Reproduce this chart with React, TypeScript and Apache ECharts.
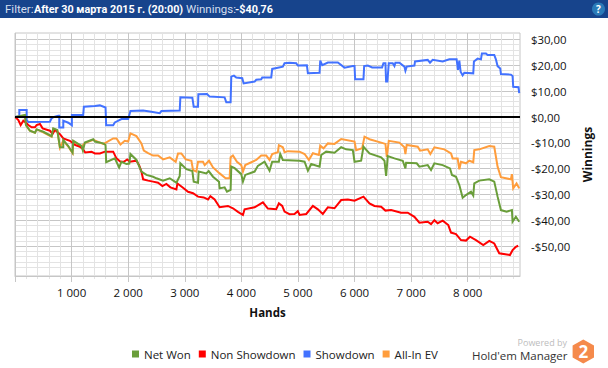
import React, { useEffect, useRef } from "react";
import * as echarts from "echarts";

const FONT = '"Open Sans", "Noto Sans", sans-serif';
const HEAD = 'Roboto, "Open Sans", sans-serif';

const netWonData: number[][] = [[6,0],[88,0.4],[176,0.8],[194,-3.1],[264,-5.3],[353,-6.1],[382,-4.8],[500,-5.7],[647,-7.4],[676,-4.4],[747,-5],[794,-11.7],[853,-11.7],[853,-8.9],[941,-11.2],[1017,-13.8],[1029,-9.2],[1176,-11.2],[1200,-13],[1235,-9.9],[1382,-8.6],[1411,-9.5],[1558,-10.2],[1600,-10.8],[1611,-17.5],[1764,-16],[1840,-19.5],[1882,-17.3],[1970,-18.2],[2020,-18],[2040,-14.3],[2146,-16.6],[2234,-21.1],[2323,-22.4],[2440,-23.1],[2499,-23.7],[2617,-24.6],[2734,-23.7],[2852,-25.4],[2911,-22.8],[2922,-17.9],[3028,-20.2],[3134,-20.9],[3158,-25],[3234,-25.4],[3246,-21.1],[3381,-21.8],[3422,-20.9],[3499,-23.1],[3605,-25],[3616,-27.6],[3704,-27.2],[3746,-28.9],[3810,-28.2],[3822,-19.2],[3881,-19.8],[3998,-22.1],[4028,-25],[4069,-22.4],[4234,-21.1],[4292,-18.9],[4410,-17.3],[4498,-20.8],[4545,-17.3],[4663,-17.3],[4687,-14.3],[4733,-16.6],[5029,-16.9],[5117,-17.3],[5176,-20.8],[5235,-18.2],[5382,-19.2],[5411,-14.7],[5499,-13.4],[5646,-13.8],[5764,-11.7],[5852,-12.5],[5970,-12.8],[6000,-17.3],[6117,-16.9],[6158,-11.5],[6264,-14.1],[6470,-15.6],[6529,-16.9],[6558,-22.8],[6587,-15.1],[6705,-16],[6852,-16.9],[6899,-19.9],[6911,-17.7],[7099,-17.9],[7146,-19.2],[7293,-18.6],[7352,-20.5],[7411,-17.9],[7558,-18.6],[7687,-19.9],[7722,-22.4],[7793,-23.1],[7852,-26.3],[7911,-31.2],[7969,-30.2],[8058,-28.9],[8098,-30.4],[8116,-25.7],[8204,-24.6],[8381,-24.1],[8469,-25],[8528,-30.8],[8587,-36],[8687,-36.6],[8781,-36],[8793,-40.5],[8851,-38.6],[8910,-40.5]];

const nonShowdownData: number[][] = [[6,0],[59,-1.2],[100,-3.1],[147,-1.4],[194,-2.2],[235,-3.1],[294,-4],[353,-4],[382,-3.1],[441,-2.7],[488,-4.4],[617,-5.3],[664,-6.6],[705,-5],[794,-6.6],[853,-8.3],[970,-9.2],[1058,-10.8],[1147,-11.5],[1205,-12.5],[1240,-13.7],[1352,-13.4],[1411,-14.1],[1500,-14.1],[1588,-13.4],[1735,-13.4],[1793,-16],[1864,-17.3],[1923,-17.3],[1982,-16.4],[2029,-17.3],[2146,-16.9],[2193,-18.6],[2234,-21.1],[2264,-24.1],[2352,-24.6],[2440,-25],[2528,-25.4],[2605,-26.7],[2675,-25.9],[2746,-27.2],[2852,-28],[2870,-25.7],[2958,-27.2],[3058,-28.9],[3146,-29.5],[3234,-30.8],[3334,-31.1],[3411,-31.9],[3452,-30.6],[3528,-31.9],[3616,-34.9],[3763,-34.4],[3851,-35.3],[3940,-36.7],[4028,-37.9],[4057,-35.7],[4234,-34.9],[4381,-33],[4469,-35.4],[4616,-35.7],[4663,-33.4],[4722,-34.4],[4763,-36.6],[4851,-37.6],[4939,-37.5],[4998,-36.4],[5029,-37.9],[5147,-37.5],[5264,-34.4],[5352,-35.7],[5440,-37.5],[5529,-34.9],[5646,-35.3],[5764,-32.1],[5882,-31.9],[6000,-32.4],[6158,-30.8],[6264,-33.4],[6352,-34.4],[6470,-34.7],[6546,-36.2],[6646,-36],[6822,-37],[6940,-37],[7058,-38.6],[7146,-40.9],[7293,-40.5],[7352,-41.4],[7411,-39.9],[7469,-41.1],[7558,-40.1],[7657,-41.8],[7705,-44.7],[7793,-45.3],[7881,-47.6],[7969,-47.8],[8040,-46.3],[8146,-47.6],[8275,-49.5],[8381,-47.9],[8469,-48.9],[8557,-52.7],[8746,-53.4],[8793,-51.5],[8851,-50.2],[8892,-49.8]];

const showdownData: number[][] = [[6,0.1],[76,0.1],[76,2.7],[206,2.7],[206,-1.2],[235,-1.9],[617,-1.8],[647,-0.5],[676,-0.1],[764,0.5],[782,0.5],[782,-4.1],[853,-4.1],[853,-1.4],[941,-2.2],[1005,-3.2],[1005,0.8],[1205,0.8],[1217,4],[1411,4.3],[1500,4.5],[1600,3.7],[1611,-3.2],[1735,-3.2],[1764,-2.1],[1882,-0.8],[2000,-0.8],[2040,2.3],[2264,2.5],[2381,2.1],[2558,1.5],[2587,2.3],[2911,2.5],[2922,7.6],[3134,7.5],[3158,4],[3234,4],[3240,8.8],[3393,8.9],[3440,7.9],[3704,7.6],[3734,5.7],[3810,5.7],[3822,15.6],[3869,16],[3910,15.3],[4016,15],[4040,13],[4234,13.7],[4263,14.4],[4351,14.6],[4369,15.3],[4528,15.3],[4545,18.6],[4733,19.5],[4763,20.8],[4851,21],[4969,20.8],[4998,19.9],[5158,20],[5176,16.9],[5382,17.1],[5394,21.8],[5429,20.1],[5529,21.1],[5705,21.1],[5823,19.1],[5970,19.7],[6000,19.7],[6011,14.6],[6158,14.6],[6170,19.7],[6235,19.9],[6311,19.2],[6487,19.2],[6511,20.8],[6546,20.8],[6558,13.7],[6581,13.7],[6605,20.8],[6675,20.8],[6705,19.7],[6722,21],[6793,21],[6881,19.5],[6899,17.9],[6922,19.5],[7058,19.9],[7069,21.5],[7293,22.1],[7334,21],[7381,22.1],[7558,21.5],[7675,22.3],[7804,22.3],[7828,18.2],[7852,21.8],[7875,17.5],[7910,16.1],[7940,17.1],[8098,16.9],[8110,21.5],[8175,22.6],[8234,22.3],[8251,24.6],[8322,24.6],[8351,24],[8469,24],[8498,22.3],[8528,19.7],[8575,18.8],[8587,16.6],[8763,16.4],[8793,15.9],[8804,11.7],[8898,11.5],[8910,9.2]];

const allInEvData: number[][] = [[6,0],[88,0.2],[176,0.6],[194,-3.1],[264,-5.3],[353,-6.1],[382,-4.8],[500,-5.9],[647,-7.6],[676,-4.6],[747,-5.2],[794,-11.9],[853,-9.1],[941,-11.4],[1017,-14],[1029,-9.4],[1176,-11.4],[1235,-10.1],[1382,-8.8],[1558,-10.4],[1605,-9.9],[1735,-8.3],[1793,-8.3],[1864,-10.6],[1940,-9.2],[2000,-9.5],[2040,-6.3],[2146,-7.4],[2234,-10.2],[2276,-13],[2352,-14],[2440,-14.9],[2528,-14.9],[2617,-16.4],[2734,-15.6],[2840,-17.3],[2881,-14.1],[2940,-14.1],[3017,-16.4],[3117,-16.9],[3146,-20.5],[3205,-21.1],[3234,-17.3],[3322,-17.3],[3352,-18.6],[3428,-16.9],[3499,-19.5],[3616,-21.8],[3722,-23.7],[3793,-23.7],[3810,-15.6],[3851,-14.9],[3922,-17.3],[3998,-18.6],[4028,-21.1],[4069,-18.6],[4263,-16.6],[4351,-14.9],[4440,-14.9],[4498,-16.6],[4545,-14.3],[4645,-13.6],[4663,-10.9],[4733,-11.7],[4763,-13.6],[4822,-13.2],[5029,-13.4],[5117,-14.3],[5193,-16.6],[5264,-14],[5370,-14.7],[5394,-11.1],[5452,-12.1],[5529,-10.2],[5646,-10.4],[5764,-8.5],[6000,-9.5],[6029,-12.8],[6135,-12.1],[6176,-7.6],[6264,-8.6],[6470,-9.9],[6546,-10.4],[6570,-15.4],[6605,-9.2],[6793,-9.9],[6881,-11.7],[6899,-14.3],[6922,-10.8],[7117,-11.5],[7158,-13],[7293,-12.5],[7340,-14.3],[7411,-11.7],[7587,-12.5],[7705,-14.1],[7734,-16],[7822,-16],[7852,-20.2],[7881,-17.3],[7969,-17.9],[8028,-16.9],[8098,-17.5],[8116,-12.8],[8204,-12.5],[8381,-11.2],[8469,-11.5],[8528,-19.2],[8587,-23.3],[8763,-24.1],[8781,-22.1],[8804,-27.6],[8863,-25.7],[8910,-27.6]];

const zeroLineData: number[][] = [[0,0],[8924,0]];

const xMajorTicks = [0,1000,2000,3000,4000,5000,6000,7000,8000];
const xLabelTicks = [1000,2000,3000,4000,5000,6000,7000,8000];
const xMinorTicks = [200,400,600,800,1200,1400,1600,1800,2200,2400,2600,2800,3200,3400,3600,3800,4200,4400,4600,4800,5200,5400,5600,5800,6200,6400,6600,6800,7200,7400,7600,7800,8200,8400,8600,8800];
const yGridTicks = [-58,-56,-54,-52,-50,-48,-46,-44,-42,-40,-38,-36,-34,-32,-30,-28,-26,-24,-22,-20,-18,-16,-14,-12,-10,-8,-6,-4,-2,0,2,4,6,8,10,12,14,16,18,20,22,24,26,28,30];
const yLabelTicks = [-50,-40,-30,-20,-10,0,10,20,30];

const MAJOR = "#c6c6c6";
const MINOR = "#e3e3e3";

const money = (v: number) => `${v < 0 ? "-" : ""}$${Math.abs(v)},00`;
const thousands = (v: number) => `${Math.floor(v / 1000)} ${String(v % 1000).padStart(3, "0")}`;

export default function App() {
  const ref = useRef<HTMLDivElement>(null);
  useEffect(() => {
    document.body.style.margin = "0";
    const chart = echarts.init(ref.current!, undefined, { renderer: "svg" });
    const line = (name: string, data: number[][], color: string, z: number, width = 2) => ({
      name, type: "line", data, z, showSymbol: false, symbol: "none", smooth: false,
      lineStyle: { color, width, join: "miter" }, itemStyle: { color },
    });
    chart.setOption({
      animation: false,
      backgroundColor: "#fff",
      textStyle: { fontFamily: FONT },
      grid: { left: 15, right: 88, top: 33, bottom: 92, show: true, borderColor: MAJOR, borderWidth: 1, backgroundColor: "transparent" },
      legend: {
        left: 132, top: 348, padding: 0, icon: "rect", itemWidth: 7, itemHeight: 7, itemGap: 8,
        data: ["Net Won", "Non Showdown", "Showdown", "All-In EV"],
        textStyle: { fontFamily: FONT, fontSize: 11.5, color: "#222" },
      },
      xAxis: [
        {
          type: "value", min: 0, max: 8924, position: "bottom",
          name: "Hands", nameLocation: "middle", nameGap: 30,
          nameTextStyle: { fontFamily: FONT, fontSize: 11.5, fontWeight: "bold", color: "#111" },
          axisLine: { show: true, onZero: false, lineStyle: { color: MAJOR } },
          axisTick: { show: true, length: 6, lineStyle: { color: MAJOR }, customValues: xMajorTicks },
          axisLabel: { fontFamily: FONT, fontSize: 11.5, color: "#111", margin: 10, customValues: xLabelTicks, formatter: thousands },
          splitLine: { show: true, lineStyle: { color: MAJOR, width: 1 } },
          z: 1,
        },
        {
          type: "value", min: 0, max: 8924, position: "bottom",
          axisLine: { show: false, onZero: false },
          axisTick: { show: true, length: 3, lineStyle: { color: MINOR }, customValues: xMinorTicks },
          axisLabel: { show: false },
          splitLine: { show: true, lineStyle: { color: MINOR, width: 1 } },
          z: 0,
        },
      ],
      yAxis: {
        type: "value", min: -61.5, max: 32.5, position: "right",
        name: "Winnings", nameLocation: "middle", nameRotate: 90, nameGap: 57,
        nameTextStyle: { fontFamily: FONT, fontSize: 12, fontWeight: "bold", color: "#111" },
        axisLine: { show: false },
        axisTick: { show: false, customValues: yGridTicks },
        axisLabel: { fontFamily: FONT, fontSize: 11.4, color: "#111", margin: 11, customValues: yLabelTicks, formatter: money },
        splitLine: { show: true, lineStyle: { color: [MINOR, MINOR, MINOR, MINOR, MAJOR], width: 1 } },
      },
      series: [
        line("Net Won", netWonData, "#6a9e3a", 6),
        line("Non Showdown", nonShowdownData, "#ff0000", 5),
        line("Showdown", showdownData, "#4272ff", 4),
        line("All-In EV", allInEvData, "#ff9d3c", 3),
        { ...line("Zero", zeroLineData, "#000000", 8, 2.2) },
      ],
      graphic: [
        { type: "rect", shape: { x: 0, y: 0, width: 608, height: 18 }, style: { fill: "#17448c" }, z: 10 },
        { type: "text", x: 5, y: 3, z: 11, style: { text: "Filter:", fill: "#d5dfee", font: `11.5px ${HEAD}` } },
        { type: "text", x: 34, y: 3.5, z: 11, style: { text: "After 30 марта 2015 г. (20:00)", fill: "#ffffff", font: `bold 10.8px ${HEAD}` } },
        { type: "text", x: 186, y: 3, z: 11, style: { text: "Winnings:", fill: "#d5dfee", font: `11.5px ${HEAD}` } },
        { type: "text", x: 235, y: 3.5, z: 11, style: { text: "-$40,76", fill: "#ffffff", font: `bold 10.8px ${HEAD}` } },
        { type: "circle", shape: { cx: 598.5, cy: 9, r: 6.5 }, style: { fill: "#2a7ab8" }, z: 11 },
        { type: "text", x: 598.5, y: 9, z: 12, style: { text: "?", fill: "#ffffff", font: `bold 10px ${FONT}`, align: "center", verticalAlign: "middle" } },
        { type: "text", x: 567, y: 342.5, z: 11, style: { text: "Powered by", fill: "#bdbdbd", font: `9px ${FONT}`, align: "right", verticalAlign: "middle" } },
        { type: "text", x: 567.5, y: 355, z: 11, style: { text: "Hold'em Manager", fill: "#333333", font: `11.5px ${FONT}`, align: "right", verticalAlign: "middle" } },
        { type: "polygon", z: 11, shape: { points: [[583.3, 339.5], [594, 345.5], [594, 357.5], [583.3, 363.5], [572.6, 357.5], [572.6, 345.5]] }, style: { fill: "#f58a4b" } },
        { type: "text", x: 583.3, y: 351.5, z: 12, style: { text: "2", fill: "#ffffff", font: `bold 17px ${FONT}`, align: "center", verticalAlign: "middle" } },
      ],
    });
    return () => chart.dispose();
  }, []);
  return <div ref={ref} style={{ width: 608, height: 368 }} />;
}
